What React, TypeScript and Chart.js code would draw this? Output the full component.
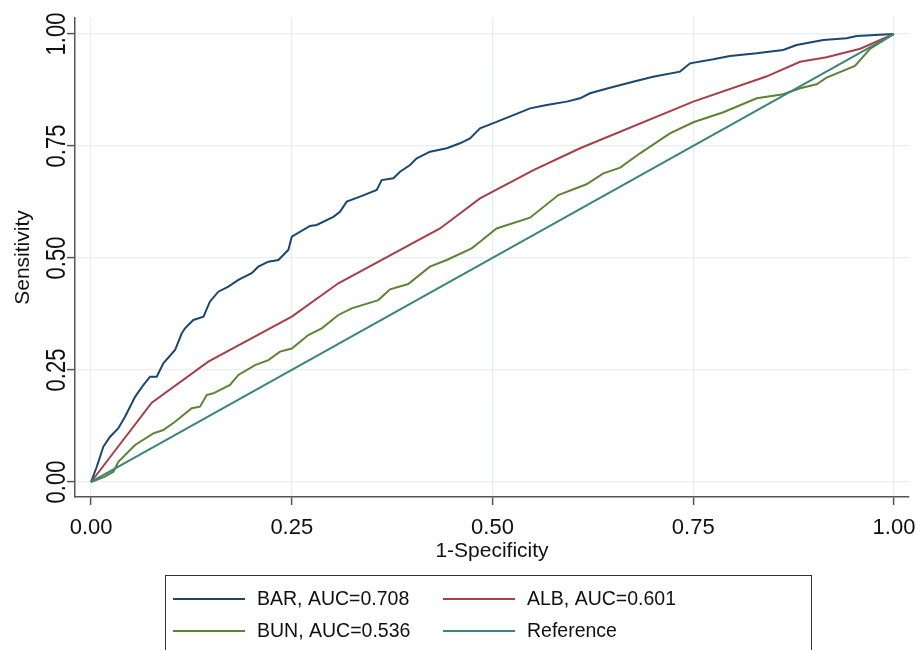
import React, { useEffect, useRef } from "react";
import { Chart, registerables } from "chart.js";

Chart.register(...registerables);

// ---- Data ----
const barX = [0, 0.0071, 0.0153, 0.0237, 0.034, 0.0423, 0.0548, 0.0651, 0.0735, 0.0818, 0.09, 0.1046, 0.113, 0.117, 0.1274, 0.14, 0.148, 0.1585, 0.171, 0.1835, 0.2, 0.2083, 0.2208, 0.2333, 0.2457, 0.25, 0.2727, 0.281, 0.3018, 0.31, 0.3184, 0.335, 0.3558, 0.362, 0.3765, 0.3848, 0.3973, 0.4056, 0.4222, 0.443, 0.4595, 0.472, 0.4844, 0.501, 0.526, 0.5467, 0.5675, 0.5924, 0.609, 0.6214, 0.6463, 0.675, 0.7, 0.7335, 0.746, 0.775, 0.7958, 0.829, 0.862, 0.8787, 0.912, 0.941, 0.9536, 1];
const barY = [0, 0.034, 0.0788, 0.101, 0.12, 0.1458, 0.19, 0.2165, 0.235, 0.235, 0.265, 0.2946, 0.332, 0.343, 0.3616, 0.369, 0.4025, 0.4248, 0.436, 0.451, 0.466, 0.4806, 0.4918, 0.4955, 0.518, 0.5476, 0.5714, 0.5737, 0.592, 0.603, 0.6257, 0.637, 0.6518, 0.674, 0.678, 0.6926, 0.7076, 0.7225, 0.7373, 0.745, 0.756, 0.767, 0.7895, 0.801, 0.819, 0.834, 0.8415, 0.849, 0.8565, 0.8676, 0.88, 0.8936, 0.9047, 0.916, 0.9345, 0.9435, 0.951, 0.957, 0.9643, 0.9754, 0.9866, 0.9903, 0.9955, 1];

const albX = [0, 0.0756, 0.146, 0.25, 0.308, 0.4346, 0.4844, 0.551, 0.609, 0.75, 0.841, 0.883, 0.916, 0.958, 0.978, 1];
const albY = [0, 0.177, 0.2685, 0.369, 0.4435, 0.566, 0.633, 0.696, 0.745, 0.849, 0.905, 0.938, 0.948, 0.967, 0.983, 1];

const bunX = [0, 0.0174, 0.0278, 0.034, 0.0548, 0.0776, 0.09, 0.1046, 0.1254, 0.1357, 0.144, 0.1523, 0.173, 0.1835, 0.2042, 0.2208, 0.2354, 0.25, 0.2706, 0.2873, 0.308, 0.3246, 0.3578, 0.3723, 0.395, 0.422, 0.443, 0.474, 0.4844, 0.505, 0.5467, 0.582, 0.617, 0.638, 0.659, 0.6837, 0.721, 0.75, 0.7875, 0.829, 0.862, 0.883, 0.9037, 0.916, 0.9514, 0.97, 1];
const bunY = [0, 0.0118, 0.023, 0.045, 0.0826, 0.1087, 0.116, 0.1346, 0.1645, 0.168, 0.194, 0.198, 0.2165, 0.239, 0.261, 0.272, 0.291, 0.298, 0.328, 0.343, 0.3728, 0.3876, 0.406, 0.43, 0.442, 0.4806, 0.4955, 0.5216, 0.5364, 0.566, 0.59, 0.6406, 0.6645, 0.689, 0.7016, 0.7337, 0.778, 0.803, 0.8254, 0.8565, 0.8654, 0.8788, 0.8877, 0.9025, 0.929, 0.9665, 1];

const refX = [0, 1];
const refY = [0, 1];

const tickValues = [0, 0.25, 0.5, 0.75, 1];
const tickLabels = ["0.00", "0.25", "0.50", "0.75", "1.00"];
const xTitle = "1-Specificity";
const yTitle = "Sensitivity";
const seriesLabels = ["BAR, AUC=0.708", "ALB, AUC=0.601", "BUN, AUC=0.536", "Reference"];
const seriesColors = ["#1a476f", "#a63f48", "#5e8236", "#3a8579"];

const FONT = "'Liberation Sans', Arial, Helvetica, sans-serif";

function pts(xs: number[], ys: number[]) {
  return xs.map((x, i) => ({ x, y: ys[i] }));
}

const textPlugin = {
  id: "stataText",
  afterDraw(chart: any) {
    const ctx = chart.ctx as CanvasRenderingContext2D;
    const xs = chart.scales.x;
    const ys = chart.scales.y;
    ctx.save();
    ctx.fillStyle = "#111";
    // x tick labels
    ctx.font = `22px ${FONT}`;
    ctx.textAlign = "center";
    ctx.textBaseline = "alphabetic";
    tickValues.forEach((v, i) => {
      ctx.fillText(tickLabels[i], xs.getPixelForValue(v), 534);
    });
    // y tick labels (rotated)
    tickValues.forEach((v, i) => {
      const py = ys.getPixelForValue(v);
      ctx.save();
      ctx.translate(65, py);
      ctx.rotate(-Math.PI / 2);
      ctx.scale(1, 1.25);
      ctx.textAlign = "center";
      ctx.fillText(tickLabels[i], 0, 0);
      ctx.restore();
    });
    // axis titles
    ctx.font = `21px ${FONT}`;
    ctx.textAlign = "center";
    ctx.fillText(xTitle, (chart.chartArea.left + chart.chartArea.right) / 2, 557);
    ctx.save();
    ctx.translate(29, (chart.chartArea.top + chart.chartArea.bottom) / 2);
    ctx.rotate(-Math.PI / 2);
    ctx.fillText(yTitle, 0, 0);
    ctx.restore();

    // legend
    ctx.strokeStyle = "#333";
    ctx.lineWidth = 1;
    ctx.strokeRect(165.5, 575.5, 646, 100);
    const rows = [599, 631];
    const cols = [[173, 245, 257], [443, 515, 527]];
    ctx.font = `19.5px ${FONT}`;
    ctx.textAlign = "left";
    ctx.textBaseline = "middle";
    seriesLabels.forEach((lab, i) => {
      const r = Math.floor(i / 2);
      const c = i % 2;
      const y = rows[r];
      ctx.strokeStyle = seriesColors[i];
      ctx.lineWidth = 2;
      ctx.beginPath();
      ctx.moveTo(cols[c][0], y);
      ctx.lineTo(cols[c][1], y);
      ctx.stroke();
      ctx.fillStyle = "#111";
      ctx.fillText(lab, cols[c][2], y + 1);
    });
    ctx.restore();
  },
};

export default function App() {
  const ref = useRef<HTMLCanvasElement | null>(null);
  useEffect(() => {
    if (!ref.current) return;
    const series = [
      pts(barX, barY),
      pts(albX, albY),
      pts(bunX, bunY),
      pts(refX, refY),
    ];
    const chart = new Chart(ref.current, {
      type: "line",
      data: {
        datasets: series.map((d, i) => ({
          label: seriesLabels[i],
          data: d,
          borderColor: seriesColors[i],
          backgroundColor: seriesColors[i],
          borderWidth: 2,
          pointRadius: 0,
          tension: 0,
          fill: false,
          order: i === 3 ? 0 : 4 - i,
        })),
      },
      options: {
        animation: false,
        responsive: false,
        maintainAspectRatio: false,
        layout: { padding: { top: 18, right: 9, left: 0, bottom: 0 } },
        plugins: {
          legend: { display: false },
          tooltip: { enabled: false },
        },
        scales: {
          x: {
            type: "linear",
            min: -0.02,
            max: 1.0187,
            afterBuildTicks: (s: any) => {
              s.ticks = tickValues.map((v) => ({ value: v }));
            },
            afterFit: (s: any) => {
              s.height = 153;
            },
            ticks: { display: false },
            grid: {
              color: "#e6eef1",
              lineWidth: 1.2,
              drawTicks: true,
              tickLength: 8,
              tickColor: "#555",
              tickWidth: 1.5,
            },
            border: { display: true, color: "#555", width: 1.5 },
          },
          y: {
            type: "linear",
            min: -0.0335,
            max: 1.0357,
            afterBuildTicks: (s: any) => {
              s.ticks = tickValues.map((v) => ({ value: v }));
            },
            afterFit: (s: any) => {
              s.width = 75;
            },
            ticks: { display: false },
            grid: {
              color: "#e6eef1",
              lineWidth: 1.2,
              drawTicks: true,
              tickLength: 8,
              tickColor: "#555",
              tickWidth: 1.5,
            },
            border: { display: true, color: "#555", width: 1.5 },
          },
        },
      },
      plugins: [textPlugin],
    });
    return () => chart.destroy();
  }, []);
  return (
    <div style={{ position: "absolute", left: 0, top: 0, width: 918, height: 650, background: "#fff" }}>
      <canvas ref={ref} width={918} height={650} style={{ width: 918, height: 650, display: "block" }} />
    </div>
  );
}
